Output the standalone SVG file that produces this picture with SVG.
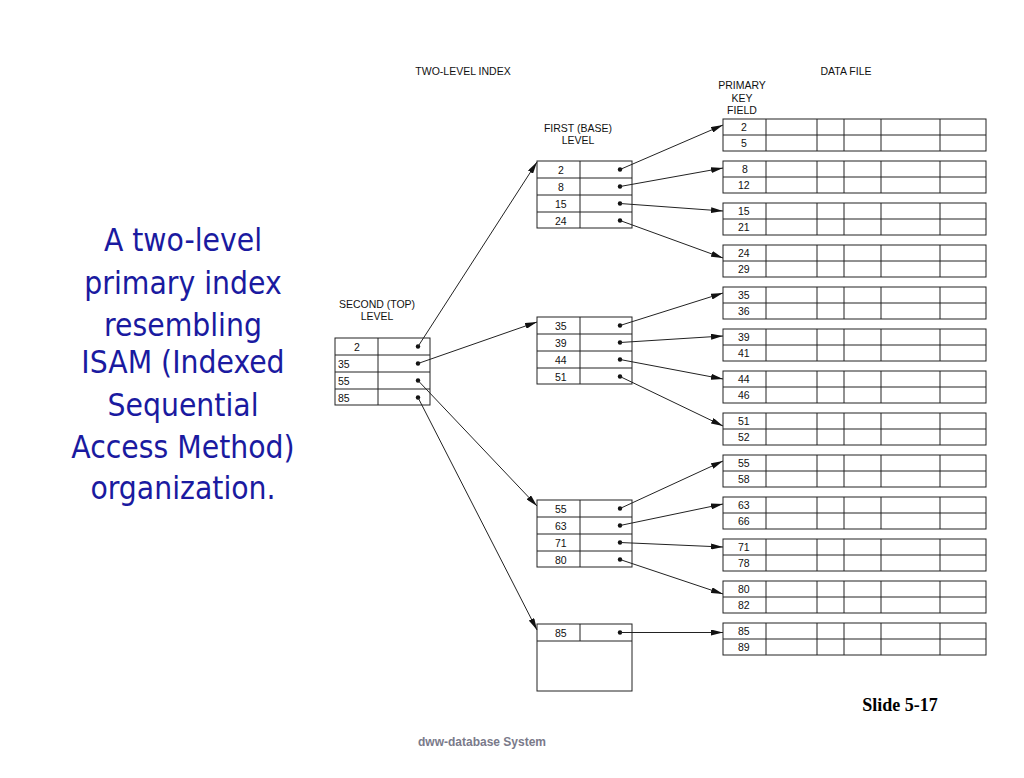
<svg xmlns="http://www.w3.org/2000/svg" width="1024" height="778" viewBox="0 0 1024 778">
<style>
.b{fill:#fff;stroke:#222;stroke-width:1}
.l{stroke:#222;stroke-width:1}
.t{font-family:"Liberation Sans",Arial,sans-serif;font-size:10.5px;fill:#111}
.c{text-anchor:middle}
.big{font-family:"DejaVu Sans Condensed","DejaVu Sans",sans-serif;font-size:31.5px;fill:#1a1aa0;text-anchor:middle}
.a{stroke:#222;stroke-width:1;fill:none;marker-end:url(#ah)}
</style>
<defs>
<marker id="ah" markerWidth="12" markerHeight="6" refX="12" refY="3" orient="auto" markerUnits="userSpaceOnUse"><path d="M0,0L12,3L0,6z" fill="#111"/></marker>
<g id="df"><rect class="b" x="723" y="0" width="263" height="32"/><line class="l" x1="723" y1="16" x2="986" y2="16"/><line class="l" x1="766" y1="0" x2="766" y2="32"/><line class="l" x1="817" y1="0" x2="817" y2="32"/><line class="l" x1="844" y1="0" x2="844" y2="32"/><line class="l" x1="881" y1="0" x2="881" y2="32"/><line class="l" x1="940" y1="0" x2="940" y2="32"/></g>
<g id="ix"><rect class="b" x="0" y="0" width="95" height="67"/><line class="l" x1="0" y1="17" x2="95" y2="17"/><line class="l" x1="0" y1="34" x2="95" y2="34"/><line class="l" x1="0" y1="51" x2="95" y2="51"/><line class="l" x1="43" y1="0" x2="43" y2="67"/><circle cx="83" cy="8.5" r="2.2" fill="#111"/><circle cx="83" cy="25.5" r="2.2" fill="#111"/><circle cx="83" cy="42.5" r="2.2" fill="#111"/><circle cx="83" cy="59.5" r="2.2" fill="#111"/></g>
</defs>
<rect width="1024" height="778" fill="#fff"/>
<g id="caption">
<text class="big" x="183" y="251">A two-level</text>
<text class="big" x="183" y="294">primary index</text>
<text class="big" x="183" y="336">resembling</text>
<text class="big" x="183" y="373">ISAM (Indexed</text>
<text class="big" x="183" y="416">Sequential</text>
<text class="big" x="183" y="458">Access Method)</text>
<text class="big" x="183" y="499">organization.</text>
</g>
<g id="labels" class="t">
<text class="t c" x="463" y="75">TWO-LEVEL INDEX</text>
<text class="t c" x="846" y="75">DATA FILE</text>
<text class="t c" x="742" y="89">PRIMARY</text>
<text class="t c" x="742" y="102">KEY</text>
<text class="t c" x="742" y="114">FIELD</text>
<text class="t c" x="578" y="132">FIRST (BASE)</text>
<text class="t c" x="578" y="144">LEVEL</text>
<text class="t c" x="377" y="308">SECOND (TOP)</text>
<text class="t c" x="377" y="320">LEVEL</text>
</g>
<g id="top"><use href="#ix" x="335" y="338"/>
<text class="t" x="354" y="351">2</text><text class="t" x="338" y="368">35</text><text class="t" x="338" y="385">55</text><text class="t" x="338" y="402">85</text></g>
<g id="first1"><use href="#ix" x="537" y="161"/>
<text class="t" x="558" y="174">2</text><text class="t" x="558" y="191">8</text><text class="t" x="555" y="208">15</text><text class="t" x="555" y="225">24</text></g>
<g id="first2"><use href="#ix" x="537" y="317"/>
<text class="t" x="555" y="330">35</text><text class="t" x="555" y="347">39</text><text class="t" x="555" y="364">44</text><text class="t" x="555" y="381">51</text></g>
<g id="first3"><use href="#ix" x="537" y="500"/>
<text class="t" x="555" y="513">55</text><text class="t" x="555" y="530">63</text><text class="t" x="555" y="547">71</text><text class="t" x="555" y="564">80</text></g>
<g id="first4"><rect class="b" x="537" y="624" width="95" height="67"/><line class="l" x1="537" y1="641" x2="632" y2="641"/><line class="l" x1="580" y1="624" x2="580" y2="641"/><circle cx="620" cy="632.5" r="2.2" fill="#111"/>
<text class="t" x="555" y="637">85</text></g>
<g id="data">
<use href="#df" y="119"/><use href="#df" y="161"/><use href="#df" y="203"/><use href="#df" y="245"/><use href="#df" y="287"/><use href="#df" y="329"/><use href="#df" y="371"/><use href="#df" y="413"/><use href="#df" y="455"/><use href="#df" y="497"/><use href="#df" y="539"/><use href="#df" y="581"/><use href="#df" y="623"/>
</g>
<g id="datakeys" class="t">
<text x="741" y="131">2</text><text x="741" y="147">5</text>
<text x="742" y="173">8</text><text x="738" y="189">12</text>
<text x="738" y="215">15</text><text x="738" y="231">21</text>
<text x="738" y="257">24</text><text x="738" y="273">29</text>
<text x="738" y="299">35</text><text x="738" y="315">36</text>
<text x="738" y="341">39</text><text x="738" y="357">41</text>
<text x="738" y="383">44</text><text x="738" y="399">46</text>
<text x="738" y="425">51</text><text x="738" y="441">52</text>
<text x="738" y="467">55</text><text x="738" y="483">58</text>
<text x="738" y="509">63</text><text x="738" y="525">66</text>
<text x="738" y="551">71</text><text x="738" y="567">78</text>
<text x="738" y="593">80</text><text x="738" y="609">82</text>
<text x="738" y="635">85</text><text x="738" y="651">89</text>
</g>
<g id="connectors">
<path class="a" d="M418,346.5L537,162"/>
<path class="a" d="M418,363.5L537,322"/>
<path class="a" d="M418,380.5L537,506"/>
<path class="a" d="M418,397.5L537,630"/>
<path class="a" d="M620,169.5L723,125"/>
<path class="a" d="M620,186.5L723,168"/>
<path class="a" d="M620,203.5L723,211"/>
<path class="a" d="M620,220.5L723,258"/>
<path class="a" d="M620,325.5L723,293"/>
<path class="a" d="M620,342.5L723,336"/>
<path class="a" d="M620,359.5L723,379"/>
<path class="a" d="M620,376.5L723,426"/>
<path class="a" d="M620,508.5L723,461"/>
<path class="a" d="M620,525.5L723,504"/>
<path class="a" d="M620,542.5L723,547"/>
<path class="a" d="M620,559.5L723,594"/>
<path class="a" d="M620,632.5L723,632.5"/>
</g>
<text x="900" y="711" text-anchor="middle" font-family="Liberation Serif,serif" font-weight="bold" font-size="18" fill="#000">Slide 5-17</text>
<text x="482" y="746" text-anchor="middle" font-family="Liberation Sans,sans-serif" font-weight="bold" font-size="12" fill="#7a7a8a">dww-database System</text>
</svg>
